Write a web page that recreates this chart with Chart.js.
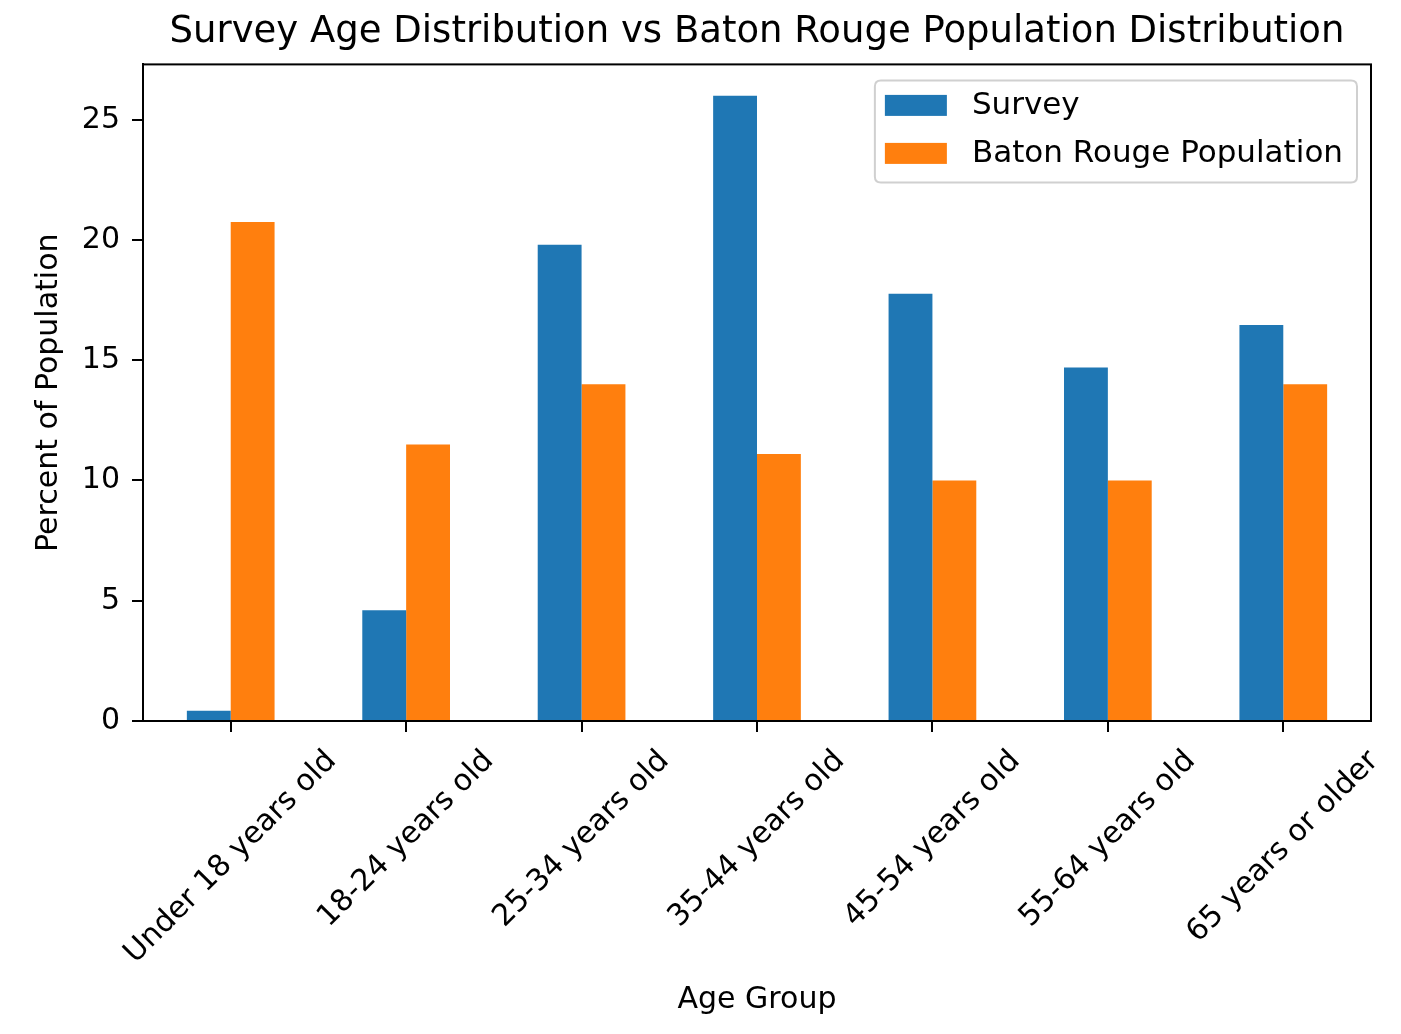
<!DOCTYPE html>
<html>
<head>
<meta charset="utf-8">
<script src="https://cdn.jsdelivr.net/npm/chart.js@4.4.1/dist/chart.umd.min.js"></script>
<style>
  html, body { margin: 0; padding: 0; background: #ffffff; }
  #wrap { width: 1401px; height: 1034px; }
</style>
</head>
<body>
<div id="wrap"><canvas id="c" width="1401" height="1034"></canvas></div>
<script>
const categories = ['Under 18 years old', '18-24 years old', '25-34 years old', '35-44 years old', '45-54 years old', '55-64 years old', '65 years or older'];
const surveyValues = [0.43, 4.6, 19.8, 26.0, 17.76, 14.7, 16.47];
const batonRougeValues = [20.75, 11.5, 14.0, 11.1, 10.0, 10.0, 14.0];
const yTicks = [0, 5, 10, 15, 20, 25];
const seriesNames = ['Survey', 'Baton Rouge Population'];
const titleText = 'Survey Age Distribution vs Baton Rouge Population Distribution';
const xTitle = 'Age Group';
const yTitle = 'Percent of Population';

const FONT = '"DejaVu Sans", "Liberation Sans", sans-serif';
Chart.defaults.font.family = FONT;
Chart.defaults.color = '#000';

const framePlugin = {
  id: 'frame',
  afterDatasetsDraw(chart) {
    const {ctx, chartArea: a} = chart;
    ctx.save();
    ctx.strokeStyle = '#000';
    ctx.lineWidth = 2;
    ctx.strokeRect(a.left, a.top, a.right - a.left, a.bottom - a.top);
    ctx.restore();
  }
};

const xLabelPlugin = {
  id: 'xlabels',
  afterDraw(chart) {
    const {ctx, chartArea: a} = chart;
    const xs = chart.scales.x;
    const size = 30;
    ctx.save();
    ctx.font = size + 'px ' + FONT;
    ctx.fillStyle = '#000';
    ctx.textAlign = 'center';
    ctx.textBaseline = 'middle';
    chart.data.labels.forEach((lab, i) => {
      const x = xs.getPixelForTick(i);
      const w = ctx.measureText(lab).width;
      const h = size * 1.164;
      const d = (w + h) * Math.SQRT1_2;
      const cy = a.bottom + 23 + d / 2;
      ctx.save();
      ctx.translate(x, cy);
      ctx.rotate(-Math.PI / 4);
      ctx.fillText(lab, 0, 0);
      ctx.restore();
    });
    ctx.restore();
  }
};

const legendPlugin = {
  id: 'innerLegend',
  afterDraw(chart) {
    const {ctx, chartArea: a} = chart;
    const size = 31;
    ctx.save();
    ctx.font = size + 'px ' + FONT;
    const sets = chart.data.datasets;
    const maxW = Math.max(...sets.map(s => ctx.measureText(s.label).width));
    const pad = 10, handleW = 62, handleH = 21, gap = 25;
    const right = a.right - 14;
    const top = a.top + 16;
    const width = pad + handleW + gap + maxW + pad + 4;
    const left = right - width;
    const height = 102;
    const r = 6;
    ctx.beginPath();
    ctx.moveTo(left + r, top);
    ctx.lineTo(right - r, top);
    ctx.quadraticCurveTo(right, top, right, top + r);
    ctx.lineTo(right, top + height - r);
    ctx.quadraticCurveTo(right, top + height, right - r, top + height);
    ctx.lineTo(left + r, top + height);
    ctx.quadraticCurveTo(left, top + height, left, top + height - r);
    ctx.lineTo(left, top + r);
    ctx.quadraticCurveTo(left, top, left + r, top);
    ctx.closePath();
    ctx.fillStyle = 'rgba(255,255,255,0.8)';
    ctx.fill();
    ctx.strokeStyle = '#d0d0d0';
    ctx.lineWidth = 2;
    ctx.stroke();
    sets.forEach((s, i) => {
      const cy = top + 25 + i * 48;
      ctx.fillStyle = s.backgroundColor;
      ctx.fillRect(left + pad, cy - handleH / 2, handleW, handleH);
      ctx.fillStyle = '#000';
      ctx.textAlign = 'left';
      ctx.textBaseline = 'middle';
      ctx.fillText(s.label, left + pad + handleW + gap, cy + 1);
    });
    ctx.restore();
  }
};

new Chart(document.getElementById('c'), {
  type: 'bar',
  data: {
    labels: categories,
    datasets: [
      { label: seriesNames[0], data: surveyValues, backgroundColor: '#1f77b4', borderWidth: 0,
        categoryPercentage: 0.5, barPercentage: 1.0 },
      { label: seriesNames[1], data: batonRougeValues, backgroundColor: '#ff7f0e', borderWidth: 0,
        categoryPercentage: 0.5, barPercentage: 1.0 }
    ]
  },
  options: {
    responsive: false,
    animation: false,
    devicePixelRatio: 1,
    layout: { padding: { left: 0, right: 30, top: 0, bottom: 0 } },
    plugins: {
      legend: { display: false },
      tooltip: { enabled: false },
      title: {
        display: true,
        text: titleText,
        fullSize: false,
        color: '#000',
        font: { size: 37, weight: 'normal', family: FONT },
        padding: { top: 10, bottom: 10 }
      }
    },
    scales: {
      x: {
        type: 'category',
        offset: true,
        grid: { offset: false, drawOnChartArea: false, drawTicks: true, tickLength: 11, color: '#000', lineWidth: 2 },
        border: { display: true, color: '#000', width: 2 },
        ticks: { display: false },
        title: { display: true, text: xTitle, color: '#000', font: { size: 30, family: FONT }, padding: { top: 0, bottom: 16 } },
        afterFit: s => { s.height = 313; }
      },
      y: {
        position: 'left',
        min: 0,
        max: 27.3,
        afterBuildTicks: s => { s.ticks = yTicks.map(v => ({ value: v })); },
        grid: { drawOnChartArea: false, drawTicks: true, tickLength: 11, color: '#000', lineWidth: 2 },
        border: { display: true, color: '#000', width: 2 },
        ticks: { color: '#000', font: { size: 30, family: FONT }, padding: 12 },
        title: { display: true, text: yTitle, color: '#000', font: { size: 30, family: FONT }, padding: { top: 31, bottom: 0 } },
        afterFit: s => { s.width = 143; }
      }
    }
  },
  plugins: [framePlugin, xLabelPlugin, legendPlugin]
});
</script>
</body>
</html>
